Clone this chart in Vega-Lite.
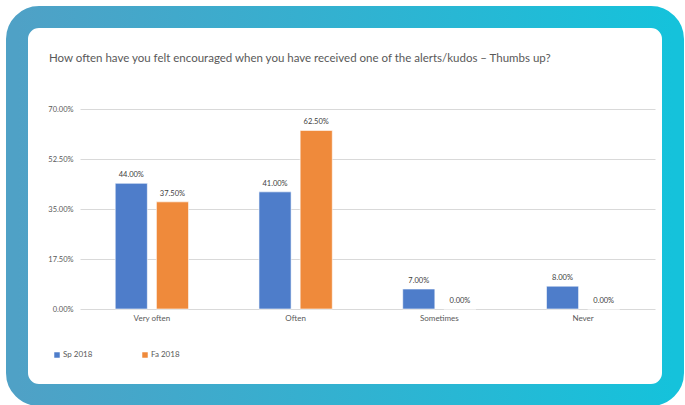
{
  "$schema": "https://vega.github.io/schema/vega-lite/v6.json",
  "width": 656,
  "height": 378,
  "autosize": {"type": "none"},
  "padding": {"left": 17, "top": 17, "right": 12, "bottom": 10},
  "background": "white",
  "config": {
    "font": "Lato",
    "view": {
      "fill": "white",
      "stroke": {"gradient": "linear", "x1": 0, "y1": 0, "x2": 1, "y2": 0, "stops": [{"offset": 0, "color": "#4fa1c6"}, {"offset": 1, "color": "#15c2db"}]},
      "strokeWidth": 22,
      "cornerRadius": 22
    }
  },
  "title": {
    "text": "How often have you felt encouraged when you have received one of the alerts/kudos – Thumbs up?",
    "anchor": "start",
    "frame": "group",
    "offset": 0,
    "dx": 32,
    "dy": 47,
    "fontSize": 11.5,
    "fontWeight": "normal",
    "color": "#595959"
  },
  "data": {
    "values": [
      {"answer": "Very often", "term": "Sp 2018", "pct": 0.44},
      {"answer": "Very often", "term": "Fa 2018", "pct": 0.375},
      {"answer": "Often", "term": "Sp 2018", "pct": 0.41},
      {"answer": "Often", "term": "Fa 2018", "pct": 0.625},
      {"answer": "Sometimes", "term": "Sp 2018", "pct": 0.07},
      {"answer": "Sometimes", "term": "Fa 2018", "pct": 0.0},
      {"answer": "Never", "term": "Sp 2018", "pct": 0.08},
      {"answer": "Never", "term": "Fa 2018", "pct": 0.0}
    ]
  },
  "encoding": {
    "x": {
      "field": "answer",
      "type": "nominal",
      "sort": ["Very often", "Often", "Sometimes", "Never"],
      "scale": {"range": [63, 638], "paddingInner": 0.49, "paddingOuter": 0.245},
      "axis": {
        "title": null,
        "orient": "bottom",
        "offset": -86,
        "domain": false,
        "ticks": false,
        "tickSize": 0,
        "grid": false,
        "labelAngle": 0,
        "labelPadding": 5,
        "labelFontSize": 8,
        "labelColor": "#595959"
      }
    },
    "xOffset": {
      "field": "term",
      "type": "nominal",
      "sort": ["Sp 2018", "Fa 2018"],
      "scale": {"paddingInner": 0.22, "paddingOuter": 0}
    },
    "y": {
      "field": "pct",
      "type": "quantitative",
      "scale": {"domain": [0, 0.7], "range": [292, 92], "nice": false, "zero": true},
      "axis": {
        "title": null,
        "values": [0, 0.175, 0.35, 0.525, 0.7],
        "format": ".2%",
        "offset": -59,
        "domain": false,
        "ticks": false,
        "tickSize": 0,
        "labelPadding": 3,
        "labelFontSize": 7.5,
        "labelColor": "#595959",
        "gridColor": "#d9d9d9",
        "gridWidth": 1
      }
    },
    "color": {
      "field": "term",
      "type": "nominal",
      "sort": ["Sp 2018", "Fa 2018"],
      "scale": {"domain": ["Sp 2018", "Fa 2018"], "range": ["#4e7dca", "#ef8a3b"]},
      "legend": {
        "title": null,
        "orient": "bottom-left",
        "offset": 36,
        "direction": "horizontal",
        "symbolType": "square",
        "symbolSize": 30,
        "symbolStrokeWidth": 0,
        "labelFontSize": 8,
        "labelColor": "#595959",
        "labelOffset": 2,
        "columnPadding": 48
      }
    }
  },
  "layer": [
    {"mark": {"type": "bar", "stroke": "white", "strokeWidth": 0.6}},
    {
      "mark": {"type": "text", "dy": -4, "baseline": "bottom", "fontSize": 7.5},
      "encoding": {
        "text": {"field": "pct", "type": "quantitative", "format": ".2%"},
        "color": {"value": "#404040"}
      }
    }
  ]
}
